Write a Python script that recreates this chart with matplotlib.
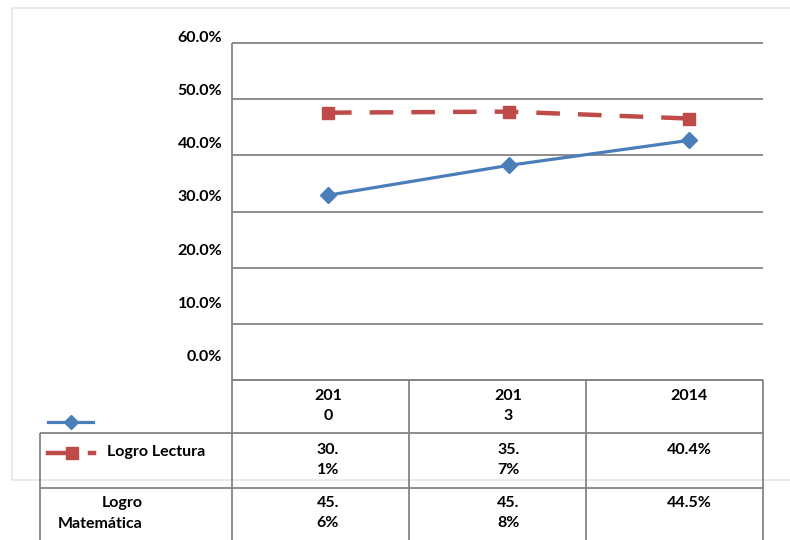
import matplotlib
matplotlib.use('Agg')
import matplotlib.pyplot as plt
import numpy as np
from matplotlib.transforms import blended_transform_factory

# ---------------- data ----------------
years = ["2010", "2013", "2014"]
series_names = ["Logro Lectura", "Logro Matemática"]
lectura = [30.1, 35.7, 40.4]
matematica = [45.6, 45.8, 44.5]
y_ticks = [0, 10, 20, 30, 40, 50, 60]

# ---------------- style ----------------
BLUE = '#4A7EBB'
RED = '#BE4B48'
GRID = '#858585'
FRAME = '#e6e6e6'
plt.rcParams['font.family'] = ['Lato', 'DejaVu Sans']
plt.rcParams['font.weight'] = 'bold'
plt.rcParams['lines.scale_dashes'] = False
FS = 11.5

W, H = 790, 540
fig = plt.figure(figsize=(W / 100, H / 100), dpi=100)

# overlay axes in pixel coordinates (for frame, grid and table rules)
ov = fig.add_axes([0, 0, 1, 1])
ov.set_xlim(0, W)
ov.set_ylim(H, 0)
ov.axis('off')

# faint page frame of the screenshot
ov.plot([12, 12, W], [480, 8, 8], color=FRAME, lw=1.2)
ov.plot([12, W], [480, 480], color=FRAME, lw=1.2)

# plot area
L, R, T, B = 232, 763, 36, 380
ax = fig.add_axes([L / W, 1 - B / H, (R - L) / W, (B - T) / H])
ax.set_xlim(-0.532, 2.41)
ax.set_ylim(-4.6, 60)
ax.patch.set_alpha(0)
for s in ax.spines.values():
    s.set_visible(False)
ax.set_xticks([])
ax.set_yticks(y_ticks)
ax.set_yticklabels([f'{v:.1f}%' for v in y_ticks])
ax.tick_params(axis='y', length=0, pad=7, labelsize=FS)
for lab in ax.get_yticklabels():
    lab.set_fontweight('bold')

# gridlines (as they appear in the reference)
grid_px = np.linspace(43, 380, 7)
ov.hlines(grid_px, L, R, color=GRID, lw=1.3)
ov.vlines(L, 43, H, color=GRID, lw=1.3)

# series lines
x = np.arange(len(years))
ax.plot(x, lectura, color=BLUE, lw=2.3, marker='D', ms=8, clip_on=False, zorder=3)
ax.plot(x, matematica, color=RED, lw=3.2, dashes=(17, 13), marker='s', ms=9,
        clip_on=False, zorder=3)

# ---------------- data table ----------------
ov.hlines(380, L, R, color=GRID, lw=1.3)
ov.hlines([433, 488], 40, R, color=GRID, lw=1.3)
ov.vlines(40, 433, H, color=GRID, lw=1.3)
ov.vlines([409, 586, 763], 380, H, color=GRID, lw=1.3)

bt = blended_transform_factory(ax.transData, ov.transData)
wrap_cols = [3, 3, None]


def wrap(s, n):
    return s if n is None else s[:n] + '\n' + s[n:]


row_tops = [389, 443, 496]
rows = [years,
        [f'{v:.1f}%' for v in lectura],
        [f'{v:.1f}%' for v in matematica]]
for r, (top, vals) in enumerate(zip(row_tops, rows)):
    for i, v in enumerate(vals):
        ov.text(i, top, wrap(v, wrap_cols[i]), transform=bt, ha='center', va='top',
                fontsize=FS, linespacing=1.55)

# legend keys + row labels
ov.plot([48, 93], [422, 422], color=BLUE, lw=2.3)
ov.plot([71], [422], color=BLUE, marker='D', ms=7)
ov.plot([48, 76], [453, 453], color=RED, lw=3.2)
ov.plot([72], [453], color=RED, marker='s', ms=9)
ov.plot([90, 94], [453, 453], color=RED, lw=3.2)
ov.text(107, 452, series_names[0], ha='left', va='center', fontsize=FS)
ov.text(100, 496, series_names[1].replace(' ', '\n'), ha='center', va='top',
        multialignment='right', fontsize=FS, linespacing=1.6)

fig.savefig('out.png', dpi=100)
